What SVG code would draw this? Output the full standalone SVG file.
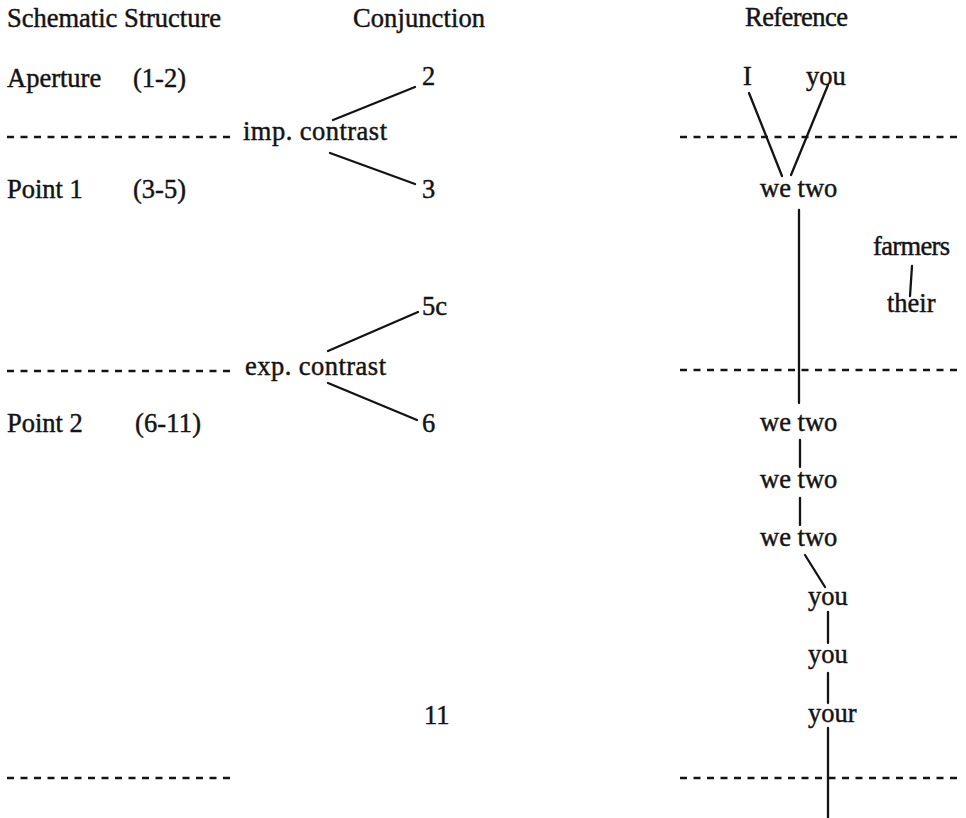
<svg xmlns="http://www.w3.org/2000/svg" width="966" height="818" viewBox="0 0 966 818">
<style>
text{font-family:"Liberation Serif","Times New Roman",serif;font-size:26.5px;fill:#141414;stroke:#141414;stroke-width:0.45}
.ln{stroke:#141414;stroke-width:2.3;fill:none;stroke-linecap:round}
.ds{stroke:#141414;stroke-width:2.6;fill:none;stroke-dasharray:7 6.5}
</style>
<rect width="966" height="818" fill="#fff"/>
<g id="headers">
<text x="7" y="27" textLength="214" lengthAdjust="spacing">Schematic Structure</text>
<text x="353" y="27" textLength="132" lengthAdjust="spacing">Conjunction</text>
<text x="745" y="26" textLength="103" lengthAdjust="spacing">Reference</text>
</g>
<g id="stages">
<g id="aperture"><text x="7" y="87">Aperture</text><text x="133" y="87">(1-2)</text></g>
<g id="point1"><text x="7" y="198">Point 1</text><text x="133" y="198">(3-5)</text></g>
<g id="point2"><text x="7" y="432">Point 2</text><text x="135" y="432" textLength="66" lengthAdjust="spacing">(6-11)</text></g>
</g>
<g id="dividers">
<line class="ds" x1="7" y1="137" x2="233" y2="137"/>
<line class="ds" x1="680" y1="137" x2="962" y2="137"/>
<line class="ds" x1="7" y1="371" x2="233" y2="371"/>
<line class="ds" x1="680" y1="370" x2="962" y2="370"/>
<line class="ds" x1="7" y1="778" x2="233" y2="778"/>
<line class="ds" x1="680" y1="778" x2="962" y2="778"/>
</g>
<g id="conjunction">
<g id="c-2"><text x="422" y="85">2</text></g>
<g id="c-imp"><text x="243" y="140" textLength="144" lengthAdjust="spacing">imp. contrast</text></g>
<g id="c-3"><text x="422" y="198">3</text></g>
<g id="c-5c"><text x="422" y="315">5c</text></g>
<g id="c-exp"><text x="245" y="375" textLength="141" lengthAdjust="spacing">exp. contrast</text></g>
<g id="c-6"><text x="422" y="432">6</text></g>
<g id="c-11"><text x="424" y="724">11</text></g>
</g>
<g id="reference">
<g id="r-I"><text x="743" y="85">I</text></g>
<g id="r-you1"><text x="806" y="85">you</text></g>
<g id="r-wetwo1"><text x="760" y="197">we two</text></g>
<g id="r-farmers"><text x="873" y="255" textLength="77" lengthAdjust="spacing">farmers</text></g>
<g id="r-their"><text x="887" y="312">their</text></g>
<g id="r-wetwo2"><text x="760" y="431">we two</text></g>
<g id="r-wetwo3"><text x="760" y="488">we two</text></g>
<g id="r-wetwo4"><text x="760" y="546">we two</text></g>
<g id="r-you2"><text x="808" y="605">you</text></g>
<g id="r-you3"><text x="808" y="663">you</text></g>
<g id="r-your"><text x="808" y="722">your</text></g>
</g>
<g id="connectors">
<line class="ln" x1="333" y1="120" x2="415" y2="87"/>
<line class="ln" x1="330" y1="153" x2="415" y2="184"/>
<line class="ln" x1="328" y1="351" x2="418" y2="312"/>
<line class="ln" x1="328" y1="383" x2="417" y2="420"/>
<line class="ln" x1="749" y1="93" x2="782" y2="176"/>
<line class="ln" x1="828" y1="85" x2="791" y2="175"/>
<line class="ln" x1="799" y1="210" x2="799" y2="403"/>
<line class="ln" x1="912" y1="266" x2="910" y2="296"/>
<line class="ln" x1="800" y1="440" x2="800" y2="467"/>
<line class="ln" x1="800" y1="498" x2="800" y2="525"/>
<line class="ln" x1="805" y1="555" x2="825" y2="587"/>
<line class="ln" x1="828" y1="612" x2="828" y2="643"/>
<line class="ln" x1="828" y1="673" x2="828" y2="703"/>
<line class="ln" x1="828" y1="728" x2="828" y2="818"/>
</g>
</svg>
